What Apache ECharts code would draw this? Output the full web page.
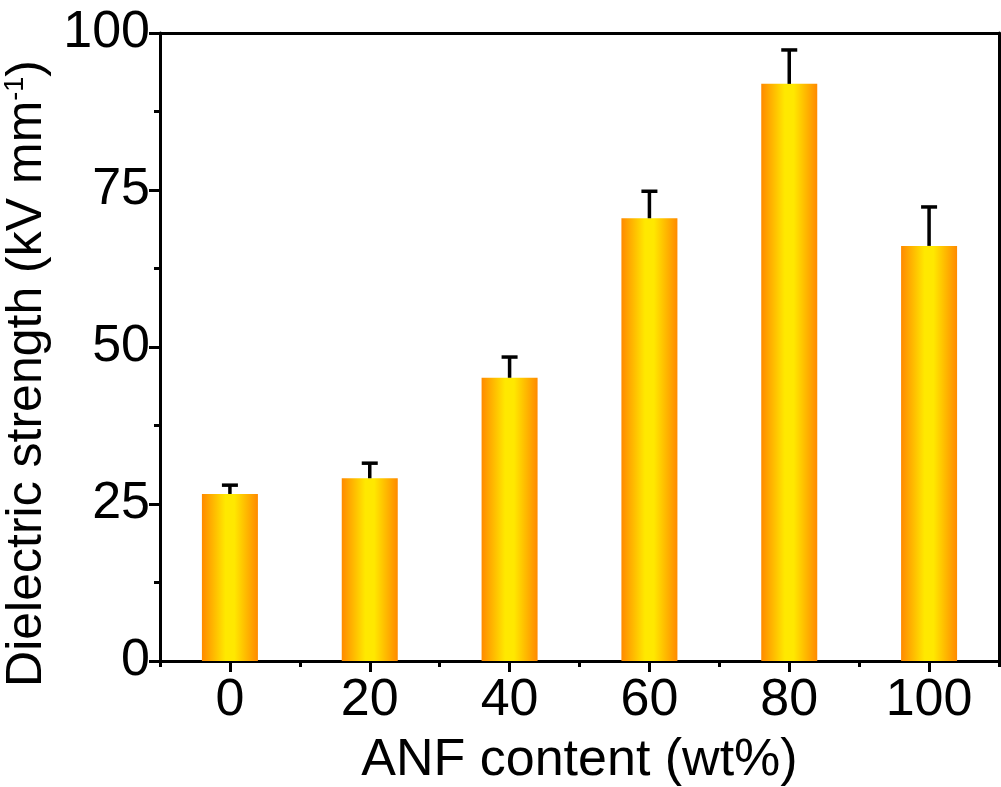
<!DOCTYPE html>
<html>
<head>
<meta charset="utf-8">
<script src="https://cdn.jsdelivr.net/npm/echarts@6/dist/echarts.min.js"></script>
<style>
html,body{margin:0;padding:0;background:#fff;}
#chart{width:1001px;height:787px;}
</style>
</head>
<body>
<div id="chart"></div>
<script>
const categories = [0, 20, 40, 60, 80, 100];
const strength = [26.6, 29.1, 45.1, 70.5, 91.9, 66.1];
const errors = [1.4, 2.4, 3.3, 4.3, 5.4, 6.2];
const xTickLabels = [0, 20, 40, 60, 80, 100];
const xMinorTicks = [-10, 10, 30, 50, 70, 90, 110];

const chart = echarts.init(document.getElementById('chart'));
const font = '"Liberation Sans", Arial, sans-serif';
const barColor = new echarts.graphic.LinearGradient(0, 0, 1, 0, [
  {offset: 0, color: '#FF8A00'},
  {offset: 0.42, color: '#FFE800'},
  {offset: 0.58, color: '#FFE800'},
  {offset: 1, color: '#FF8A00'}
]);

const barData = categories.map((c, i) => [c, strength[i]]);
const errData = categories.map((c, i) => [c, strength[i], strength[i] + errors[i]]);
const blackLine = {color: '#000', width: 3};

chart.setOption({
  animation: false,
  grid: {left: 160, right: 2, top: 33, bottom: 126, outerBoundsMode: 'none', containLabel: false},
  xAxis: [{
    type: 'value', min: -10, max: 110, position: 'bottom',
    axisLine: {onZero: false, lineStyle: blackLine},
    axisTick: {show: true, inside: false, customValues: xTickLabels, length: 11, lineStyle: blackLine},
    axisLabel: {customValues: xTickLabels, color: '#000', fontSize: 52, fontFamily: font, margin: 14},
    splitLine: {show: false},
    name: 'ANF content (wt%)', nameLocation: 'middle', nameGap: 74,
    nameTextStyle: {color: '#000', fontSize: 52, fontFamily: font}
  }, {
    type: 'value', min: -10, max: 110, position: 'bottom',
    axisLine: {show: false, onZero: false},
    axisTick: {show: true, inside: false, customValues: xMinorTicks, length: 6, lineStyle: blackLine},
    axisLabel: {show: false},
    splitLine: {show: false}
  }, {
    type: 'value', min: -10, max: 110, position: 'top',
    axisLine: {show: true, onZero: false, lineStyle: blackLine},
    axisTick: {show: false}, axisLabel: {show: false}, splitLine: {show: false}
  }],
  yAxis: [{
    type: 'value', min: 0, max: 100, interval: 25, position: 'left',
    axisLine: {show: true, onZero: false, lineStyle: blackLine},
    axisTick: {show: true, inside: false, length: 11, lineStyle: blackLine},
    minorTick: {show: true, splitNumber: 2, length: 6, lineStyle: blackLine},
    axisLabel: {color: '#000', fontSize: 52, fontFamily: font, margin: 10},
    splitLine: {show: false},
    name: 'Dielectric strength (kV mm{sup|-1})', nameLocation: 'middle', nameGap: 101,
    nameTextStyle: {color: '#000', fontSize: 50, fontFamily: font, padding: [0, 53, 0, 0],
      rich: {sup: {fontSize: 27, fontFamily: font, color: '#000', verticalAlign: 'top', lineHeight: 27}}}
  }, {
    type: 'value', min: 0, max: 100, interval: 25, position: 'right',
    axisLine: {show: true, onZero: false, lineStyle: blackLine},
    axisTick: {show: false}, axisLabel: {show: false}, splitLine: {show: false}
  }],
  series: [{
    type: 'bar', xAxisIndex: 0, yAxisIndex: 0, data: barData, barWidth: 56,
    itemStyle: {color: barColor}
  }, {
    type: 'custom', xAxisIndex: 0, yAxisIndex: 0, data: errData,
    renderItem: function (params, api) {
      const x = api.value(0);
      const lo = api.coord([x, api.value(1)]);
      const hi = api.coord([x, api.value(2)]);
      const cap = 8;
      const style = {stroke: '#000', lineWidth: 3.5};
      return {type: 'group', children: [
        {type: 'line', shape: {x1: lo[0], y1: lo[1], x2: hi[0], y2: hi[1]}, style: style},
        {type: 'line', shape: {x1: hi[0] - cap, y1: hi[1], x2: hi[0] + cap, y2: hi[1]}, style: style}
      ]};
    },
    z: 5
  }]
});
</script>
</body>
</html>
